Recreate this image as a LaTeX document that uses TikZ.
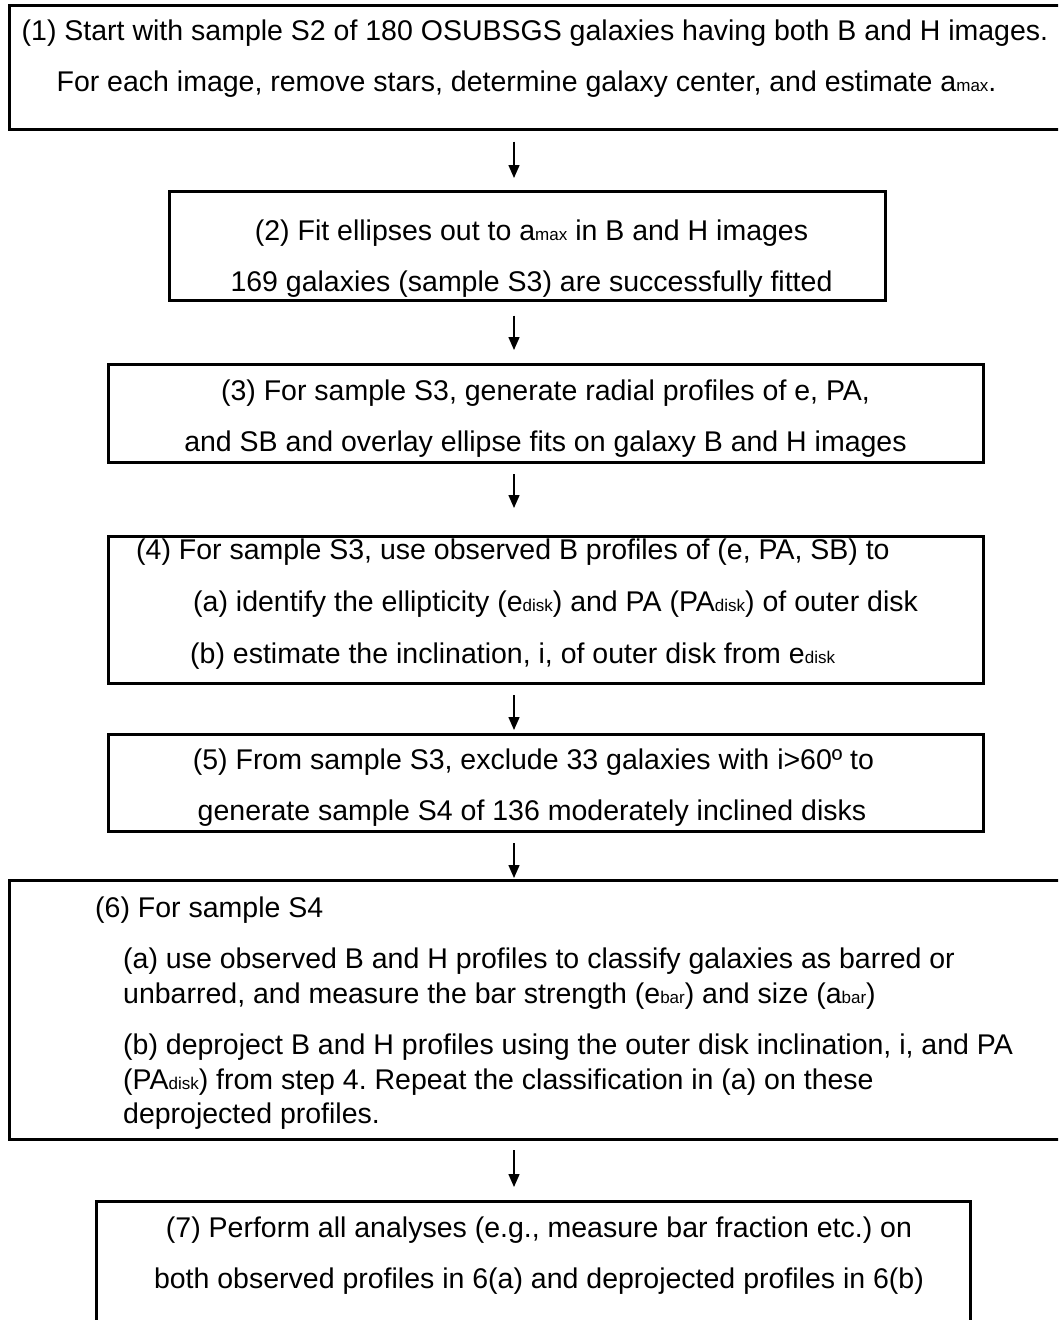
\documentclass[tikz,border=0pt]{standalone}
\usepackage{fontspec}
\setmainfont{Liberation Sans}
\usetikzlibrary{arrows.meta}
\frenchspacing
\newcommand{\sbs}[1]{{\fontsize{17}{17}\selectfont #1}}
\tikzset{
  box/.style={draw=black, line width=3pt, inner sep=0pt, outer sep=0pt},
  txt/.style={inner sep=0pt, font=\fontsize{28.5}{30}\selectfont},
  ctr/.style={txt, anchor=base},
  lft/.style={txt, anchor=base west},
  arr/.style={line width=1.5pt, -{Triangle[length=13pt,width=11pt]}, shorten <=12pt}
}
\begin{document}
\begin{tikzpicture}[x=1pt,y=-1pt]
\useasboundingbox (0,0) rectangle (1058,1320);
\clip (0,0) rectangle (1058,1320);
\fill[white] (0,0) rectangle (1058,1320);
% boxes
\node[box, minimum width=1065pt, minimum height=124pt] (b1) at (542,67.5) {};
\node[box, minimum width=715.5pt, minimum height=109pt] (b2) at (527.25,246) {};
\node[box, minimum width=875pt, minimum height=98pt] (b3) at (545.5,413) {};
\node[box, minimum width=875pt, minimum height=147pt] (b4) at (545.5,609.5) {};
\node[box, minimum width=875pt, minimum height=97pt] (b5) at (545.5,782.5) {};
\node[box, minimum width=1065pt, minimum height=258.5pt] (b6) at (542,1009.75) {};
\node[box, minimum width=874pt, minimum height=129pt] (b7) at (533,1265.5) {};
% arrows
\coordinate (ax) at (514,0);
\draw[arr, shorten >=13.5pt] (b1.south -| ax) -- (b2.north -| ax);
\draw[arr, shorten <=15pt, shorten >=14pt] (b2.south -| ax) -- (b3.north -| ax);
\draw[arr, shorten >=28pt] (b3.south -| ax) -- (b4.north -| ax);
\draw[arr, shorten >=4pt] (b4.south -| ax) -- (b5.north -| ax);
\draw[arr, shorten >=2.5pt] (b5.south -| ax) -- (b6.north -| ax);
\draw[arr, shorten <=11pt, shorten >=14pt] (b6.south -| ax) -- (b7.north -| ax);
% text box 1
\node[ctr] (t11) at (535,40) {(1) Start with sample S2 of 180 OSUBSGS galaxies having both B and H images.};
\node[ctr] (t12) at (526.5,91) {For each image, remove stars, determine galaxy center, and estimate a\sbs{max}.};
% box 2
\node[ctr] (t21) at (531.5,240) {(2) Fit ellipses out to a\sbs{max} in B and H images};
\node[ctr] (t22) at (531.5,291) {169 galaxies (sample S3) are successfully fitted};
% box 3
\node[ctr] (t31) at (545.5,400) {(3) For sample S3, generate radial profiles of e, PA,};
\node[ctr] (t32) at (545.5,451) {and SB and overlay ellipse fits on galaxy B and H images};
% box 4
\node[lft] (t41) at (136,559) {(4) For sample S3, use observed B profiles of (e, PA, SB) to};
\node[lft] (t42) at (193,611) {(a) identify the ellipticity (e\sbs{disk}) and PA (PA\sbs{disk}) of outer disk};
\node[lft] (t43) at (190,663) {(b) estimate the inclination, i, of outer disk from e\sbs{disk}};
% box 5
\node[ctr] (t51) at (533.5,769) {(5) From sample S3, exclude 33 galaxies with i>60º to};
\node[ctr] (t52) at (532,820) {generate sample S4 of 136 moderately inclined disks};
% box 6
\node[lft] (t61) at (95,917) {(6) For sample S4};
\node[lft] (t62) at (123,968) {(a) use observed B and H profiles to classify galaxies as barred or};
\node[lft] (t63) at (123,1003) {unbarred, and measure the bar strength (e\sbs{bar}) and size (a\sbs{bar})};
\node[lft] (t64) at (123,1054) {(b) deproject B and H profiles using the outer disk inclination, i, and PA};
\node[lft] (t65) at (123,1089) {(PA\sbs{disk}) from step 4. Repeat the classification in (a) on these};
\node[lft] (t66) at (123,1123) {deprojected profiles.};
% box 7
\node[ctr] (t71) at (539,1237) {(7) Perform all analyses (e.g., measure bar fraction etc.) on};
\node[ctr] (t72) at (539,1288) {both observed profiles in 6(a) and deprojected profiles in 6(b)};
\end{tikzpicture}
\end{document}
